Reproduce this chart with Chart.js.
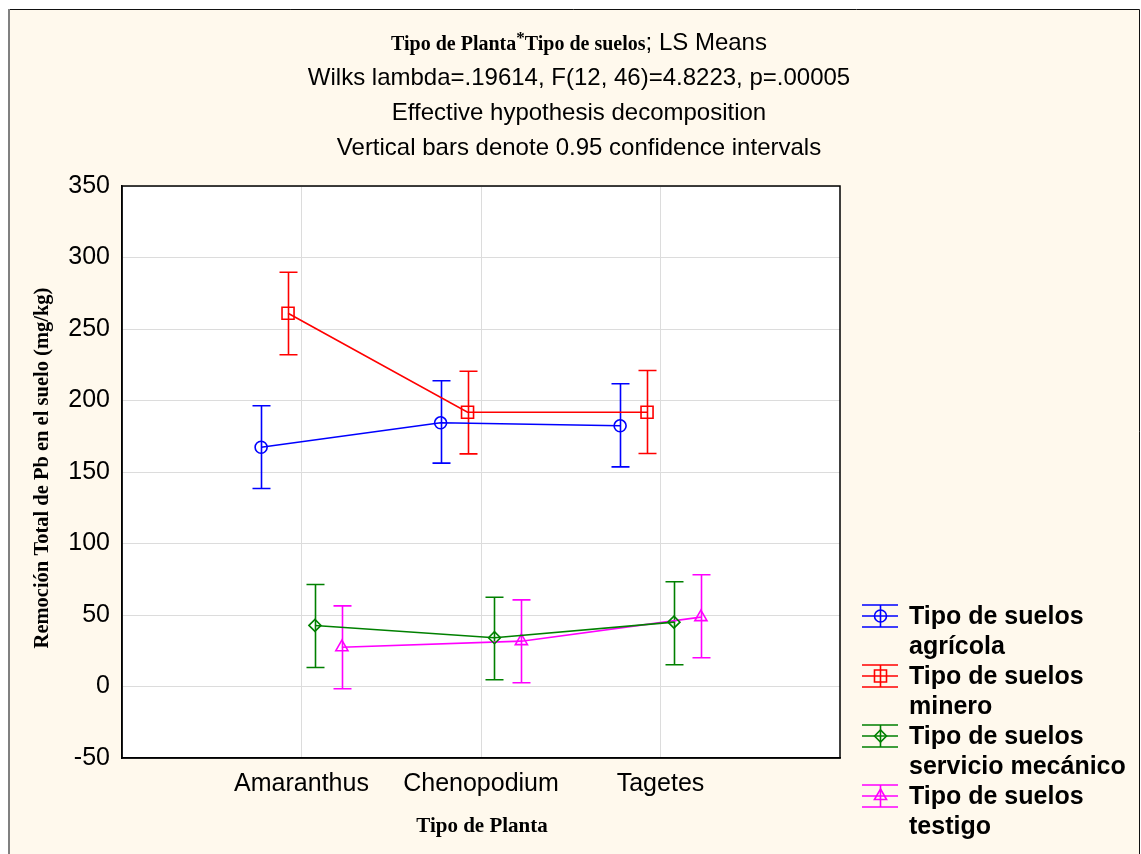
<!DOCTYPE html>
<html><head><meta charset="utf-8">
<script src="https://cdn.jsdelivr.net/npm/chart.js@4.4.1/dist/chart.umd.min.js"></script>
<style>html,body{margin:0;padding:0;background:#fff;}#wrap{width:1141px;height:854px;}</style>
</head><body><div id="wrap"><canvas id="c" width="1141" height="854"></canvas></div>
<script>
// ---- data ----
const categories = ['Amaranthus', 'Chenopodium', 'Tagetes'];
const seriesNames = ['agrícola', 'minero', 'servicio mecánico', 'testigo'];
const legendPrefix = 'Tipo de suelos';
const agricolaMean = [167.3, 184.4, 182.3];
const agricolaLow  = [138.5, 156.2, 153.6];
const agricolaHigh = [196.3, 213.8, 211.7];
const mineroMean = [261.0, 191.8, 191.8];
const mineroLow  = [232.0, 162.7, 162.9];
const mineroHigh = [289.7, 220.5, 221.0];
const servicioMean = [42.7, 34.1, 45.0];
const servicioLow  = [13.3, 4.7, 15.2];
const servicioHigh = [71.3, 62.4, 73.2];
const testigoMean = [27.5, 31.7, 48.5];
const testigoLow  = [-1.6, 2.6, 20.1];
const testigoHigh = [56.4, 60.6, 78.1];
const yTicks = [-50, 0, 50, 100, 150, 200, 250, 300, 350];
const titleBold = 'Tipo de Planta';
const titleBold2 = 'Tipo de suelos';
const titleRest = '; LS Means';
const subtitles = ['Wilks lambda=.19614, F(12, 46)=4.8223, p=.00005', 'Effective hypothesis decomposition', 'Vertical bars denote 0.95 confidence intervals'];
const xTitle = 'Tipo de Planta';
const yTitle = 'Remoción Total de Pb en el suelo (mg/kg)';

// ---- styles ----
const colors = ['#0000ff', '#ff0000', '#008000', '#ff00ff'];
const pointStyles = ['circle', 'rect', 'rectRot', 'triangle'];
const pointRadii = [6, 8.5, 6, 7];
const offsets = [-0.225, -0.075, 0.075, 0.225];
const means = [agricolaMean, mineroMean, servicioMean, testigoMean];
const lows = [agricolaLow, mineroLow, servicioLow, testigoLow];
const highs = [agricolaHigh, mineroHigh, servicioHigh, testigoHigh];
const SANS = '"Liberation Sans", Arial, sans-serif';
const SERIF = '"Liberation Serif", "Times New Roman", serif';
const CREAM = '#fff9ed';

const datasets = means.map((m, s) => ({
  label: legendPrefix + ' ' + seriesNames[s],
  data: m.map((v, i) => ({x: i + 1 + offsets[s], y: v})),
  showLine: true,
  borderColor: colors[s],
  backgroundColor: 'rgba(0,0,0,0)',
  borderWidth: 1.6,
  pointStyle: pointStyles[s],
  pointRadius: pointRadii[s],
  pointBorderWidth: 1.6,
  pointBorderColor: colors[s],
  pointBackgroundColor: 'rgba(0,0,0,0)'
}));

const deco = {
  id: 'deco',
  beforeDraw(chart) {
    const ctx = chart.ctx, a = chart.chartArea;
    ctx.save();
    ctx.fillStyle = '#ffffff';
    ctx.fillRect(0, 0, chart.width, chart.height);
    ctx.fillStyle = CREAM;
    ctx.fillRect(9, 9, 1130, chart.height - 9);
    ctx.strokeStyle = '#111';
    ctx.lineWidth = 1;
    ctx.beginPath();
    ctx.moveTo(8, 9.5); ctx.lineTo(1139.5, 9.5); ctx.lineTo(1139.5, chart.height);
    ctx.stroke();
    ctx.strokeStyle = '#808080';
    ctx.lineWidth = 2;
    ctx.beginPath(); ctx.moveTo(9, 9); ctx.lineTo(9, chart.height); ctx.stroke();
    ctx.fillStyle = '#ffffff';
    ctx.fillRect(a.left, a.top, a.right - a.left, a.bottom - a.top);
    ctx.restore();
  },
  beforeDatasetsDraw(chart) {
    const ctx = chart.ctx, xs = chart.scales.x, ys = chart.scales.y;
    ctx.save();
    ctx.lineWidth = 1.6;
    means.forEach((m, s) => {
      ctx.strokeStyle = colors[s];
      m.forEach((v, i) => {
        const px = Math.round(xs.getPixelForValue(i + 1 + offsets[s])) + 0.5;
        const pl = ys.getPixelForValue(lows[s][i]);
        const ph = ys.getPixelForValue(highs[s][i]);
        ctx.beginPath();
        ctx.moveTo(px, pl); ctx.lineTo(px, ph);
        ctx.moveTo(px - 9, ph); ctx.lineTo(px + 9, ph);
        ctx.moveTo(px - 9, pl); ctx.lineTo(px + 9, pl);
        ctx.stroke();
      });
    });
    ctx.restore();
  },
  afterDraw(chart) {
    const ctx = chart.ctx, a = chart.chartArea;
    ctx.save();
    // plot frame
    ctx.strokeStyle = '#000';
    ctx.lineWidth = 1.5;
    ctx.strokeRect(a.left, a.top, a.right - a.left, a.bottom - a.top);
    ctx.fillStyle = '#000';
    ctx.textBaseline = 'middle';
    // title line 1 (mixed fonts)
    const cx = 579;
    const fB = 'bold 20px ' + SERIF, fS = '24px ' + SANS, fStar = 'bold 17px ' + SERIF;
    ctx.font = fB; const w1 = ctx.measureText(titleBold).width, w3 = ctx.measureText(titleBold2).width;
    ctx.font = fStar; const w2 = ctx.measureText('*').width;
    ctx.font = fS; const w4 = ctx.measureText(titleRest).width;
    let x = cx - (w1 + w2 + w3 + w4) / 2;
    ctx.textAlign = 'left';
    ctx.font = fB; ctx.fillText(titleBold, x, 45); x += w1;
    ctx.font = fStar; ctx.fillText('*', x, 39); x += w2;
    ctx.font = fB; ctx.fillText(titleBold2, x, 45); x += w3;
    ctx.font = fS; ctx.fillText(titleRest, x, 43);
    ctx.textAlign = 'center';
    ctx.font = '24px ' + SANS;
    [78, 113, 148].forEach((y, i) => ctx.fillText(subtitles[i], cx, y));
    // axis titles
    ctx.font = 'bold 21px ' + SERIF;
    ctx.fillText(xTitle, 482, 827);
    ctx.save();
    ctx.translate(43, 468);
    ctx.rotate(-Math.PI / 2);
    ctx.font = 'bold 20.5px ' + SERIF;
    ctx.fillText(yTitle, 0, 0);
    ctx.restore();
    // legend
    ctx.textAlign = 'left';
    ctx.font = 'bold 25px ' + SANS;
    seriesNames.forEach((n, s) => {
      const yc = 616 + s * 60;
      ctx.strokeStyle = colors[s];
      ctx.lineWidth = 1.6;
      ctx.beginPath();
      ctx.moveTo(862, yc - 11); ctx.lineTo(898, yc - 11);
      ctx.moveTo(862, yc + 11); ctx.lineTo(898, yc + 11);
      ctx.moveTo(880.5, yc - 11); ctx.lineTo(880.5, yc + 11);
      ctx.moveTo(862, yc); ctx.lineTo(898, yc);
      ctx.stroke();
      ctx.fillStyle = 'rgba(0,0,0,0)';
      Chart.helpers.drawPoint(ctx, {pointStyle: pointStyles[s], radius: pointRadii[s], borderWidth: 1.6, rotation: 0}, 880.5, yc);
      ctx.fillStyle = '#000';
      ctx.fillText(legendPrefix, 909, yc + 1);
      ctx.fillText(n, 909, yc + 31);
    });
    ctx.restore();
  }
};

new Chart(document.getElementById('c'), {
  type: 'scatter',
  data: {datasets},
  plugins: [deco],
  options: {
    responsive: false,
    animation: false,
    devicePixelRatio: 1,
    layout: {padding: {left: 0, top: 186, right: 301, bottom: 0}},
    plugins: {legend: {display: false}, title: {display: false}, tooltip: {enabled: false}},
    scales: {
      x: {
        type: 'linear', min: 0, max: 4,
        afterBuildTicks: s => { s.ticks = categories.map((c, i) => ({value: i + 1})); },
        afterFit: s => { s.height = 96; },
        ticks: {callback: v => categories[v - 1], color: '#000', font: {family: SANS, size: 25}, padding: 11, maxRotation: 0, autoSkip: false},
        grid: {color: '#dcdcdc', lineWidth: 1, drawTicks: false},
        border: {display: true, color: '#000', width: 1.5}
      },
      y: {
        min: -50, max: 350,
        afterBuildTicks: s => { s.ticks = yTicks.map(v => ({value: v})); },
        afterFit: s => { s.width = 122; },
        ticks: {color: '#000', font: {family: SANS, size: 25}, padding: 12},
        grid: {color: '#dcdcdc', lineWidth: 1, drawTicks: false},
        border: {display: true, color: '#000', width: 1.5}
      }
    }
  }
});
</script></body></html>
